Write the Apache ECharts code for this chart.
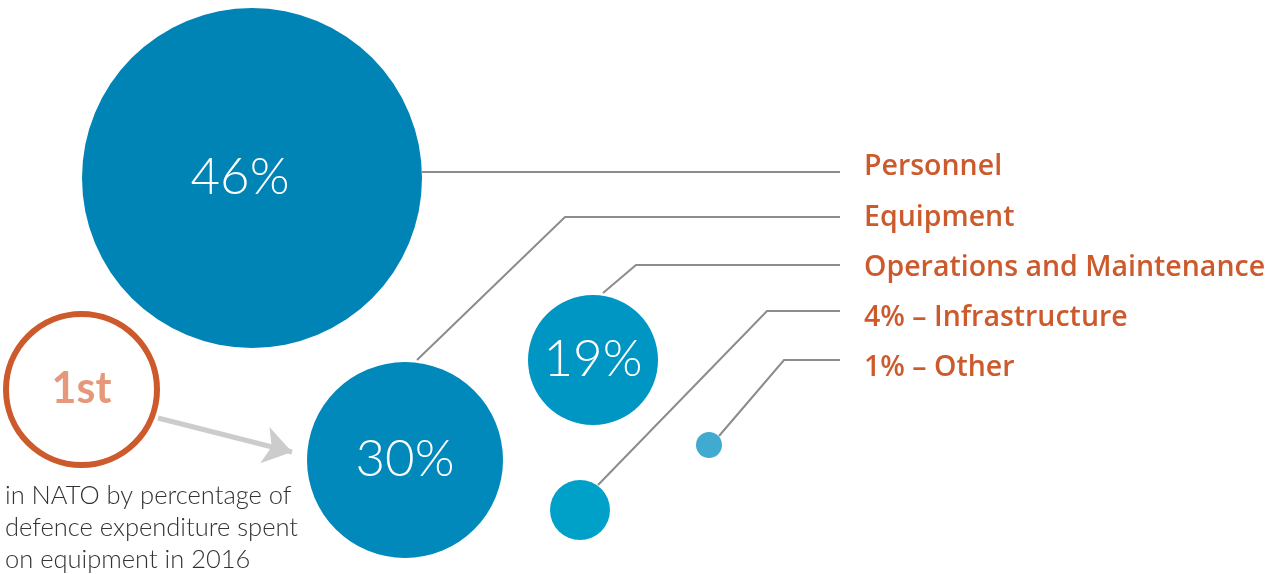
<!DOCTYPE html>
<html>
<head>
<meta charset="utf-8">
<script src="https://cdn.jsdelivr.net/npm/echarts@6/dist/echarts.min.js"></script>
<style>html,body{margin:0;padding:0;background:#fff}#c{width:1271px;height:574px}</style>
</head>
<body>
<div id="c"></div>
<script>
// ---- data ----
const categories = ['Personnel', 'Equipment', 'Operations and Maintenance', 'Infrastructure', 'Other'];
const shares = [46, 30, 19, 4, 1];
const legendLabels = ['Personnel', 'Equipment', 'Operations and Maintenance', '4% – Infrastructure', '1% – Other'];
const rankText = '1st';
const rankNote = ['in NATO by percentage of', 'defence expenditure spent', 'on equipment in 2016'];

// ---- layout (pixel space of a 1271x574 hidden cartesian grid) ----
const bubblePos = [[252, 178], [405, 460], [593, 360], [580, 510], [709, 445]];
const bubbleSize = [340, 196, 130, 60, 26];
const labelShift = [[-12, 0], [0, 0], [0, 0], [0, 0], [0, 0]];
const bubbleColor = ['#0083b5', '#0089ba', '#0096c3', '#00a1c9', '#40aad1'];
const leaderPaths = [
  [[422, 172], [840, 172]],
  [[417, 360], [565, 217], [840, 217]],
  [[603, 293], [636, 265], [840, 265]],
  [[598, 485], [767, 311], [840, 311]],
  [[719, 436], [784, 360], [840, 360]]
];
const labelX = 864, labelY = [164, 215, 265, 315, 365];
const ORANGE = '#cc5a2c';

const chart = echarts.init(document.getElementById('c'), null, {renderer: 'canvas'});
const option = {
  animation: false,
  backgroundColor: '#ffffff',
  grid: {left: 0, right: 0, top: 0, bottom: 0},
  xAxis: {type: 'value', min: 0, max: 1271, show: false},
  yAxis: {type: 'value', min: 0, max: 574, inverse: true, show: false},
  series: [
    {
      type: 'lines', coordinateSystem: 'cartesian2d', polyline: true, z: 1,
      lineStyle: {color: '#8c8c8c', width: 2, opacity: 1},
      data: leaderPaths.map((p, i) => ({name: categories[i], coords: p}))
    },
    {
      type: 'lines', coordinateSystem: 'cartesian2d', z: 1,
      symbol: ['none', 'arrow'], symbolSize: 28,
      lineStyle: {color: '#cccccc', width: 5, opacity: 1},
      data: [{coords: [[158, 418], [292, 452]]}]
    },
    {
      type: 'scatter', z: 3,
      data: shares.map((v, i) => ({
        name: categories[i], value: [bubblePos[i][0], bubblePos[i][1], v],
        symbolSize: bubbleSize[i], itemStyle: {color: bubbleColor[i], opacity: 1},
        label: {offset: labelShift[i]}
      })),
      label: {
        show: true, position: 'inside', color: '#ffffff',
        fontFamily: 'Lato', fontWeight: 300, fontSize: 51,
        formatter: p => p.value[2] >= 10 ? p.value[2] + '%' : ''
      }
    },
    {
      type: 'scatter', z: 3,
      data: [{value: [81.5, 389.5], symbolSize: 151}],
      itemStyle: {color: '#ffffff', borderColor: ORANGE, borderWidth: 6, opacity: 1},
      label: {
        show: true, position: 'inside', formatter: rankText,
        color: '#e5987a', fontFamily: 'Lato', fontWeight: 700, fontSize: 43
      }
    }
  ],
  graphic: legendLabels.map((t, i) => ({
    type: 'text', left: labelX, top: labelY[i] - 12,
    style: {text: t, fill: ORANGE, font: '600 28.5px "Open Sans"'}
  })).concat([{
    type: 'text', left: 5, top: 480,
    style: {text: rankNote.join('\n'), fill: '#333333', font: '300 25.5px Lato', lineHeight: 32}
  }])
};
chart.setOption(option);
</script>
</body>
</html>
